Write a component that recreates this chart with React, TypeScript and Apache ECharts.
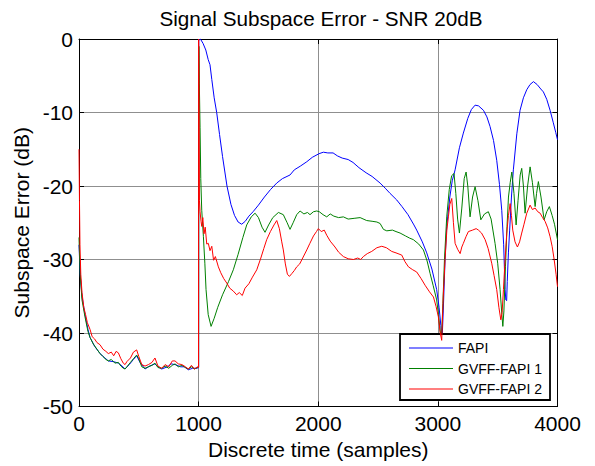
import React, { useEffect, useRef } from "react";
import * as echarts from "echarts";

const titleText = "Signal Subspace Error - SNR 20dB";
const xName = "Discrete time (samples)";
const yName = "Subspace Error (dB)";
const seriesNames = ["FAPI", "GVFF-FAPI 1", "GVFF-FAPI 2"];
const seriesColors = ["#0000ff", "#008000", "#ff0000"];

const fapi: [number, number][] = [
  [0, -28], [10, -32], [25, -35], [50, -37.5], [75, -39.5], [92, -40.6], [130, -41.8], [176, -42.8], [210, -43.3], [245, -43.8],
  [290, -43.9], [329, -44.1], [360, -44.5], [385, -44.9], [420, -44.3], [455, -43.6], [482, -43.1], [510, -44], [552, -44.9], [590, -44.5],
  [635, -44.2], [660, -44.6], [691, -44.9], [740, -44.6], [770, -44.2], [803, -44.3], [850, -44.6], [880, -44.6], [914, -45], [950, -44.8],
  [985, -44.8], [1000, -44.7],
  [1001, -0.2], [1015, 0], [1037, -0.6], [1060, -1.5], [1080, -2.8], [1095, -3.5], [1110, -5.5], [1130, -8], [1151, -10], [1175, -13],
  [1200, -16], [1237, -20], [1270, -22.5], [1300, -24], [1330, -24.9], [1360, -25.2], [1390, -24.8], [1420, -24.1], [1455, -23.5], [1500, -22.6],
  [1550, -21.5], [1600, -20.5], [1653, -19.6], [1700, -19], [1764, -18.5], [1800, -17.8], [1850, -17.3], [1904, -16.7], [1950, -16.1], [2007, -15.6],
  [2043, -15.4], [2080, -15.5], [2124, -15.5], [2160, -15.9], [2200, -16.2], [2250, -16.4], [2291, -16.8], [2340, -17.5], [2400, -18.2], [2450, -18.7],
  [2517, -19.6], [2560, -20.3], [2600, -21], [2656, -21.9], [2700, -22.8], [2750, -23.9], [2800, -25.3], [2823, -26], [2870, -27.6], [2907, -29.1],
  [2950, -31.3], [2990, -34.1], [3010, -36.5], [3025, -39], [3035, -41], [3045, -37], [3060, -30], [3074, -25.5], [3100, -21.5], [3120, -19.3],
  [3144, -17.8], [3180, -14.8], [3213, -12.8], [3250, -10.8], [3280, -9.6], [3311, -9.0], [3340, -9.1], [3381, -9.7], [3410, -10.6], [3436, -11.9],
  [3465, -13.8], [3492, -16.5], [3515, -19.8], [3534, -23.3], [3550, -28], [3562, -34.1], [3568, -35.5], [3575, -35.6], [3580, -33], [3590, -29],
  [3600, -26], [3615, -21.5], [3631, -17.8], [3660, -12.9], [3687, -9.7], [3715, -8.0], [3743, -6.9], [3770, -6.2], [3799, -5.8], [3830, -6.2],
  [3860, -6.8], [3882, -7.2], [3910, -8.2], [3938, -9.7], [3965, -11.4], [3985, -12.7], [4000, -13.7],
];

const gvff1: [number, number][] = [
  [0, -27], [10, -32], [25, -35.5], [50, -37.8], [75, -39.8], [92, -40.6], [120, -41.5], [150, -42.2], [176, -42.8], [200, -43.2],
  [225, -43.6], [245, -43.8], [270, -43.6], [300, -44.1], [329, -44.0], [350, -44.5], [370, -44.8], [385, -44.9], [400, -44.6], [430, -44.0],
  [455, -43.5], [482, -43.0], [500, -43.5], [525, -44.6], [552, -44.8], [580, -44.6], [610, -44.4], [635, -44.1], [660, -44.7], [691, -44.8],
  [720, -44.5], [750, -44.8], [780, -44.4], [803, -44.2], [830, -44.6], [860, -44.4], [890, -44.7], [914, -44.9], [940, -44.6], [965, -44.9],
  [990, -44.7], [1000, -44.6],
  [1002, -1], [1006, -6], [1012, -12], [1018, -19], [1026, -23.3], [1040, -26.9], [1052, -30.5], [1062, -34.1], [1080, -37.5], [1104, -39.1],
  [1130, -38], [1160, -36.5], [1200, -34.8], [1250, -33], [1290, -31.4], [1330, -29.3], [1370, -27], [1402, -25.3], [1440, -24.2], [1472, -23.7],
  [1500, -24.3], [1530, -25.6], [1555, -26.3], [1585, -25.3], [1620, -24.3], [1667, -23.6], [1708, -23.9], [1740, -25], [1764, -25.9], [1790, -25],
  [1820, -23.9], [1848, -23.4], [1880, -23.8], [1910, -23.6], [1931, -23.9], [1960, -23.5], [1987, -23.4], [2009, -23.5], [2040, -23.9], [2071, -24.2],
  [2100, -23.8], [2130, -24.1], [2170, -24.3], [2210, -24.2], [2250, -24.5], [2300, -24.4], [2350, -24.3], [2405, -24.7], [2450, -24.8], [2490, -24.9],
  [2517, -25.1], [2545, -25.9], [2573, -26.1], [2620, -26.0], [2650, -26.2], [2684, -26.4], [2730, -26.8], [2765, -27.1], [2795, -27.3], [2840, -27.9],
  [2879, -28.7], [2910, -30.2], [2935, -31.9], [2960, -33.5], [2990, -35.5], [3005, -37.5], [3018, -39.6], [3030, -41], [3042, -36], [3055, -30],
  [3074, -24.2], [3095, -20.5], [3115, -18.6], [3135, -18.3], [3150, -21], [3165, -24.5], [3180, -26.4], [3200, -23], [3220, -19], [3236, -18.1],
  [3250, -20], [3269, -24.2], [3290, -21.5], [3311, -20.1], [3335, -22], [3359, -24.6], [3390, -23.8], [3422, -23.5], [3445, -24.5], [3478, -27.8],
  [3500, -30.5], [3520, -34.1], [3535, -37.5], [3543, -39.1], [3552, -37], [3565, -31], [3578, -25.5], [3590, -21.5], [3605, -19.5], [3618, -18.1],
  [3636, -21], [3654, -25.3], [3670, -22], [3688, -18.5], [3701, -17.6], [3715, -20], [3729, -23.7], [3750, -20], [3771, -17.4], [3790, -19.5],
  [3813, -22.8], [3825, -21], [3840, -19.4], [3862, -21.5], [3888, -24.6], [3910, -23.5], [3932, -22.8], [3955, -24], [3975, -25.2], [4000, -27.3],
];

const gvff2: [number, number][] = [
  [0, -15], [4, -22], [8, -28], [15, -32], [25, -34.5], [40, -36.5], [55, -37.5], [70, -38.6], [92, -39.5], [110, -40.5],
  [130, -40.8], [150, -41.3], [176, -41.6], [200, -42.2], [225, -42.5], [245, -42.8], [270, -42.6], [290, -43.1], [310, -42.5], [329, -42.7],
  [350, -43.5], [370, -44.1], [385, -44.3], [400, -43.9], [430, -43.4], [455, -42.6], [482, -42.3], [500, -43.2], [525, -44.3], [552, -44.5],
  [580, -44.3], [610, -44.0], [635, -43.4], [660, -44.5], [691, -44.8], [720, -44.3], [750, -44.6], [780, -43.8], [803, -43.8], [830, -44.2],
  [860, -44.3], [890, -44.6], [914, -44.9], [940, -44.4], [965, -44.9], [990, -44.6], [999, -44.7],
  [1000, 0], [1003, -6], [1007, -22], [1012, -23.5], [1020, -24.8], [1026, -25.5], [1035, -24.3], [1045, -26.5], [1055, -25.6], [1068, -27.9],
  [1081, -27.8], [1095, -28.8], [1110, -28.2], [1125, -30.1], [1140, -29.6], [1165, -31], [1185, -31.8], [1210, -32.6], [1235, -33.2], [1260, -33.9],
  [1290, -34.3], [1318, -34.8], [1340, -34.5], [1365, -34.9], [1388, -33.9], [1420, -33.3], [1450, -32.4], [1486, -31.4], [1520, -29.8], [1545, -28.5],
  [1569, -27.3], [1600, -26.2], [1630, -25.3], [1653, -24.7], [1675, -25.8], [1695, -27.6], [1708, -28.7], [1725, -30.6], [1742, -32.0], [1759, -32.3],
  [1780, -31.9], [1800, -31.5], [1820, -31.0], [1845, -30.6], [1870, -29.8], [1904, -28.7], [1930, -27.8], [1960, -26.8], [1985, -26.2], [2001, -25.8],
  [2025, -26.2], [2050, -26.0], [2071, -26.7], [2100, -27.5], [2140, -28.3], [2170, -29.0], [2210, -29.6], [2250, -29.9], [2294, -30.0], [2330, -29.8],
  [2355, -30.0], [2377, -29.6], [2410, -29.2], [2447, -28.9], [2490, -28.4], [2531, -28.2], [2570, -28.4], [2614, -28.9], [2650, -29.1], [2698, -29.4],
  [2725, -30.3], [2754, -31.0], [2790, -31.4], [2823, -31.7], [2860, -32.6], [2893, -33.5], [2930, -34.4], [2963, -35.1], [2985, -36.4], [3004, -37.8],
  [3020, -40], [3032, -41], [3045, -35], [3060, -30], [3075, -26], [3088, -24.2], [3100, -22.5], [3116, -21.7], [3130, -25], [3144, -27.8],
  [3165, -28.6], [3186, -29.2], [3200, -28.3], [3213, -27.8], [3235, -26.9], [3255, -26.2], [3290, -26.0], [3320, -25.8], [3339, -26.0], [3365, -26.4],
  [3395, -27.3], [3420, -28.5], [3450, -30.5], [3470, -32.2], [3492, -34.1], [3510, -36.5], [3526, -38.2], [3537, -37.2], [3548, -34.1], [3562, -30],
  [3576, -26.4], [3590, -24], [3604, -22.4], [3615, -24], [3626, -26], [3645, -27.6], [3665, -28.3], [3683, -27.6], [3701, -26.4], [3720, -25.2],
  [3743, -23.7], [3771, -22.6], [3790, -23.2], [3813, -23.0], [3835, -23.5], [3855, -23.7], [3875, -24.3], [3896, -24.8], [3918, -25.7], [3938, -26.9],
  [3955, -28.2], [3972, -30.0], [3988, -32.0], [4000, -33.7],
];

const seriesData = [fapi, gvff1, gvff2];

const FONT = "'Liberation Sans', Arial, sans-serif";

export default function App() {
  const ref = useRef<HTMLDivElement>(null);
  useEffect(() => {
    if (!ref.current) return;
    const chart = echarts.init(ref.current, undefined, { renderer: "svg" });
    const axisLineStyle = { color: "#000", width: 1 };
    chart.setOption({
      animation: false,
      backgroundColor: "#fff",
      title: {
        text: titleText,
        left: 316,
        textAlign: "center",
        top: 3,
        textStyle: { fontFamily: FONT, fontSize: 20.7, fontWeight: "normal", color: "#000" },
      },
      grid: { left: 79, right: 37.5, top: 39, bottom: 59.5, containLabel: false },
      legend: {
        data: seriesNames,
        orient: "vertical",
        left: 400,
        top: 334,
        padding: [7, 8, 4, 9],
        itemWidth: 44,
        itemHeight: 14,
        itemGap: 6.5,
        icon: "path://M0,7H44V8.2H0Z",
        backgroundColor: "#fff",
        borderColor: "#000",
        borderWidth: 1.8,
        textStyle: { fontFamily: FONT, fontSize: 14, color: "#000", padding: [0, 0, 0, 0] },
      },
      xAxis: [
        {
          type: "value",
          min: 0,
          max: 4000,
          interval: 1000,
          name: xName,
          nameLocation: "middle",
          nameGap: 32,
          nameTextStyle: { fontFamily: FONT, fontSize: 21, color: "#000" },
          axisLine: { show: true, onZero: false, lineStyle: axisLineStyle },
          axisTick: { show: true, inside: true, length: 5, lineStyle: axisLineStyle },
          axisLabel: { fontFamily: FONT, fontSize: 21, color: "#000", margin: 6, formatter: (v: number) => String(v) },
          splitLine: { show: true, lineStyle: { color: "#8f8f8f", width: 1 } },
        },
        {
          type: "value",
          position: "top",
          min: 0,
          max: 4000,
          interval: 1000,
          axisLine: { show: true, onZero: false, lineStyle: axisLineStyle },
          axisTick: { show: true, inside: true, length: 5, lineStyle: axisLineStyle },
          axisLabel: { show: false },
          splitLine: { show: false },
        },
      ],
      yAxis: [
        {
          type: "value",
          min: -50,
          max: 0,
          interval: 10,
          name: yName,
          nameLocation: "middle",
          nameGap: 43,
          nameRotate: 90,
          nameTextStyle: { fontFamily: FONT, fontSize: 21, color: "#000" },
          axisLine: { show: true, onZero: false, lineStyle: axisLineStyle },
          axisTick: { show: true, inside: true, length: 5, lineStyle: axisLineStyle },
          axisLabel: { fontFamily: FONT, fontSize: 21, color: "#000", margin: 6 },
          splitLine: { show: true, lineStyle: { color: "#8f8f8f", width: 1 } },
        },
        {
          type: "value",
          position: "right",
          min: -50,
          max: 0,
          interval: 10,
          axisLine: { show: true, onZero: false, lineStyle: axisLineStyle },
          axisTick: { show: true, inside: true, length: 5, lineStyle: axisLineStyle },
          axisLabel: { show: false },
          splitLine: { show: false },
        },
      ],
      series: seriesNames.map((name, i) => ({
        name,
        type: "line",
        xAxisIndex: 0,
        yAxisIndex: 0,
        data: seriesData[i],
        showSymbol: false,
        symbol: "none",
        lineStyle: { color: seriesColors[i], width: 1 },
        itemStyle: { color: seriesColors[i] },
        z: 2 + i,
      })),
    });
    return () => chart.dispose();
  }, []);
  return <div ref={ref} style={{ width: 595, height: 466, position: "absolute", left: 0, top: 0 }} />;
}
